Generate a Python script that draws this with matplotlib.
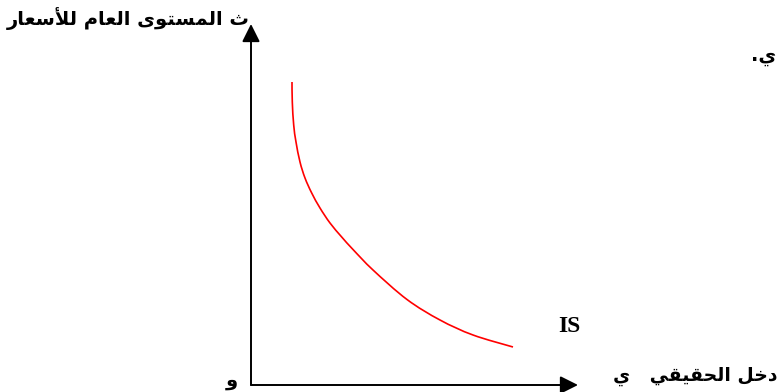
import matplotlib
matplotlib.use("Agg")
import matplotlib.pyplot as plt
from matplotlib.path import Path
from matplotlib.patches import PathPatch

# IS curve, in pixel-like units measured from the origin of the axes
curve_x = [41, 41.3, 42.7, 45, 49, 54, 60.7, 69, 79, 90.7, 102, 122, 156, 189, 222, 262]
curve_y = [303, 283, 260, 243, 223, 207, 192, 177, 162, 148, 135.5, 115, 85.5, 65, 50, 38]

# axis arrow tips
y_axis_top = 361
x_axis_end = 327

# labels
y_label = "ث المستوى العام للأسعار"
x_label = "دخل الحقيقي   ي"
corner_label = "ي."
origin_label = "و"
curve_label = "IS"

# Arabic presentation forms: (isolated, final, initial, medial)
FORMS = {
    "ا": ("\uFE8D", "\uFE8E"),
    "أ": ("\uFE83", "\uFE84"),
    "ت": ("\uFE95", "\uFE96", "\uFE97", "\uFE98"),
    "ث": ("\uFE99", "\uFE9A", "\uFE9B", "\uFE9C"),
    "ح": ("\uFEA1", "\uFEA2", "\uFEA3", "\uFEA4"),
    "خ": ("\uFEA5", "\uFEA6", "\uFEA7", "\uFEA8"),
    "د": ("\uFEA9", "\uFEAA"),
    "ر": ("\uFEAD", "\uFEAE"),
    "س": ("\uFEB1", "\uFEB2", "\uFEB3", "\uFEB4"),
    "ع": ("\uFEC9", "\uFECA", "\uFECB", "\uFECC"),
    "ق": ("\uFED5", "\uFED6", "\uFED7", "\uFED8"),
    "ل": ("\uFEDD", "\uFEDE", "\uFEDF", "\uFEE0"),
    "م": ("\uFEE1", "\uFEE2", "\uFEE3", "\uFEE4"),
    "و": ("\uFEED", "\uFEEE"),
    "ى": ("\uFEEF", "\uFEF0"),
    "ي": ("\uFEF1", "\uFEF2", "\uFEF3", "\uFEF4"),
}
LAM_ALEF = {"ا": ("\uFEFB", "\uFEFC"), "أ": ("\uFEF7", "\uFEF8")}


def shape(s):
    # join letters and flip to visual order, matplotlib has no bidi support
    tokens = []
    i = 0
    while i < len(s):
        c = s[i]
        if c == "ل" and i + 1 < len(s) and s[i + 1] in LAM_ALEF:
            tokens.append(LAM_ALEF[s[i + 1]])
            i += 2
        else:
            tokens.append(FORMS.get(c, c))
            i += 1
    out = []
    for k, t in enumerate(tokens):
        if not isinstance(t, tuple):
            out.append(t)
            continue
        prev = tokens[k - 1] if k > 0 else None
        nxt = tokens[k + 1] if k + 1 < len(tokens) else None
        jp = isinstance(prev, tuple) and len(prev) == 4
        jn = len(t) == 4 and isinstance(nxt, tuple)
        if jp and jn:
            out.append(t[3])
        elif jp:
            out.append(t[1])
        elif jn:
            out.append(t[2])
        else:
            out.append(t[0])
    return "".join(reversed(out))


def smooth_path(xs, ys):
    # catmull-rom through the points, as cubic bezier segments
    pts = list(zip(xs, ys))
    verts = [pts[0]]
    codes = [Path.MOVETO]
    n = len(pts)
    for i in range(n - 1):
        p0 = pts[max(i - 1, 0)]
        p1 = pts[i]
        p2 = pts[i + 1]
        p3 = pts[min(i + 2, n - 1)]
        c1 = (p1[0] + (p2[0] - p0[0]) / 6, p1[1] + (p2[1] - p0[1]) / 6)
        c2 = (p2[0] - (p3[0] - p1[0]) / 6, p2[1] - (p3[1] - p1[1]) / 6)
        verts += [c1, c2, p2]
        codes += [Path.CURVE4] * 3
    return Path(verts, codes)


fig = plt.figure(figsize=(7.79, 3.92), dpi=100)
ax = fig.add_axes([0, 0, 1, 1])
ax.set_xlim(-251, 528)
ax.set_ylim(-7, 385)
ax.axis("off")

arrow = dict(arrowstyle="-|>,head_length=0.6,head_width=0.3", lw=1.4,
             color="black", mutation_scale=18, shrinkA=0, shrinkB=0)
ax.annotate("", xy=(0, y_axis_top), xytext=(0, 0), arrowprops=arrow)
ax.annotate("", xy=(x_axis_end, 0), xytext=(0, 0), arrowprops=arrow)

ax.add_patch(PathPatch(smooth_path(curve_x, curve_y), fill=False,
                       edgecolor="red", lw=1.2))

ar = dict(family=["DejaVu Sans"], fontweight="bold", fontsize=14)
ax.text(-1, 366, shape(y_label), ha="right", va="center", **ar)
ax.text(525, 329, shape(corner_label), ha="right", va="center", **ar)
ax.text(527, 9, shape(x_label), ha="right", va="center",
        family=["DejaVu Sans"], fontweight="bold", fontsize=13.5)
ax.text(-13, 4, shape(origin_label), ha="right", va="center", **ar)
ax.text(318, 59, curve_label, ha="center", va="center",
        family="Liberation Serif", fontweight="bold", fontsize=17)

fig.savefig("out.png", dpi=100)
